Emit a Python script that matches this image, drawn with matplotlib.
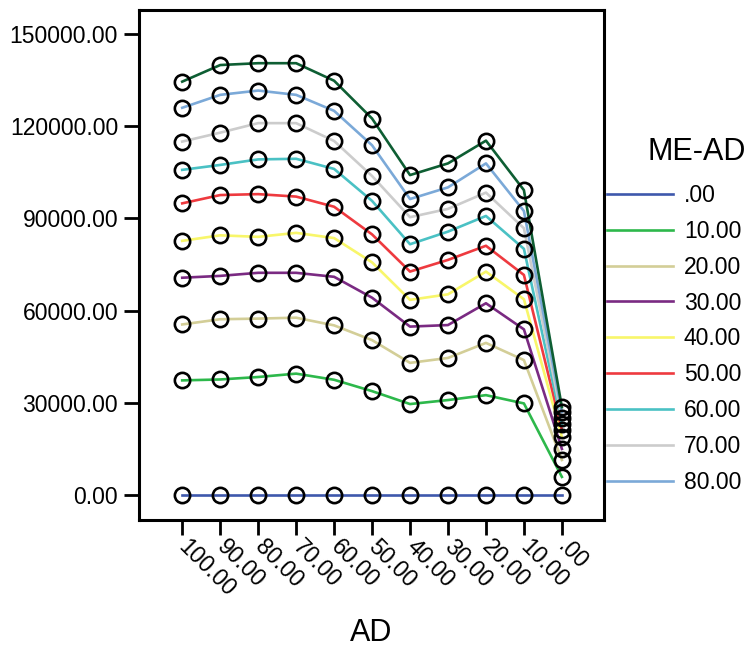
import numpy as np
import matplotlib.pyplot as plt

plt.rcParams['font.family'] = ['Liberation Sans', 'DejaVu Sans']

ad_labels = ['100.00', '90.00', '80.00', '70.00', '60.00', '50.00',
             '40.00', '30.00', '20.00', '10.00', '.00']
me_ad = ['.00', '10.00', '20.00', '30.00', '40.00', '50.00',
         '60.00', '70.00', '80.00', '90.00']

s00 = [0, 0, 0, 0, 0, 0, 0, 0, 0, 0, 0]
s10 = [37300, 37600, 38400, 39500, 37500, 33800, 29600, 30900, 32500, 29800, 5900]
s20 = [55500, 57200, 57400, 57700, 55200, 50400, 43000, 44600, 49500, 43900, 11400]
s30 = [70700, 71300, 72300, 72300, 71000, 64200, 54800, 55300, 62400, 53900, 15000]
s40 = [82700, 84500, 84000, 85300, 83600, 75700, 63500, 65300, 72700, 63700, 18900]
s50 = [94900, 97600, 97900, 97100, 93800, 84800, 72700, 76500, 81100, 71600, 21200]
s60 = [105800, 107400, 109200, 109400, 106100, 95700, 81600, 85700, 90800, 80100, 23100]
s70 = [115000, 117900, 121000, 121000, 115200, 103800, 90400, 93100, 98400, 86800, 25000]
s80 = [126000, 130200, 131600, 130200, 125000, 113800, 96300, 100100, 107900, 92400, 27000]
s90 = [134500, 139900, 140500, 140500, 134800, 122500, 104100, 107900, 115300, 99200, 28600]

series = [s00, s10, s20, s30, s40, s50, s60, s70, s80, s90]
colors = ['#3E58AC', '#2DB84B', '#D3CE97', '#7A2A82', '#F8F66A',
          '#EE3A3F', '#4AC1C4', '#CCCCCC', '#7BA9D8', '#0E5E33']

fig = plt.figure(figsize=(7.47, 6.51), dpi=100)
ax = fig.add_axes([0.186, 0.2012, 0.6226, 0.7834])

x = np.arange(len(ad_labels))
handles = []
for vals, col, lab in zip(series, colors, me_ad):
    ln, = ax.plot(x, vals, color=col, lw=1.9, label=lab, zorder=2)
    ax.plot(x, vals, ls='none', marker='o', ms=11, mfc='none', mec='black',
            mew=1.9, zorder=3)
    handles.append(ln)

ax.set_xlim(-1.14, 11.11)
ax.set_ylim(-8130, 157800)
ax.set_xticks(x)
ax.set_xticklabels(ad_labels, rotation=-45, ha='left', va='center',
                   rotation_mode='anchor', fontsize=16.5)
ax.set_yticks([0, 30000, 60000, 90000, 120000, 150000])
ax.set_yticklabels(['0.00', '30000.00', '60000.00', '90000.00',
                    '120000.00', '150000.00'], fontsize=16.5)
ax.tick_params(length=11, width=2, pad=4)
ax.tick_params(axis='x', pad=6)
for sp in ax.spines.values():
    sp.set_linewidth(2.2)

ax.set_xlabel('AD', fontsize=22, labelpad=12)

# legend only lists the first nine groups, like the original
leg = ax.legend(handles=handles[:9], labels=me_ad[:9],
                loc='upper left', frameon=False, fontsize=16.5,
                handlelength=2.9, handletextpad=0.45, labelspacing=0.56,
                borderaxespad=0, borderpad=0)
leg.set_bbox_to_anchor((607 / 747, 1 - 184 / 651), transform=fig.transFigure)
fig.text(647 / 747, 1 - 152 / 651, 'ME-AD', fontsize=22, ha='left', va='center')

fig.savefig('out.png', dpi=100)
